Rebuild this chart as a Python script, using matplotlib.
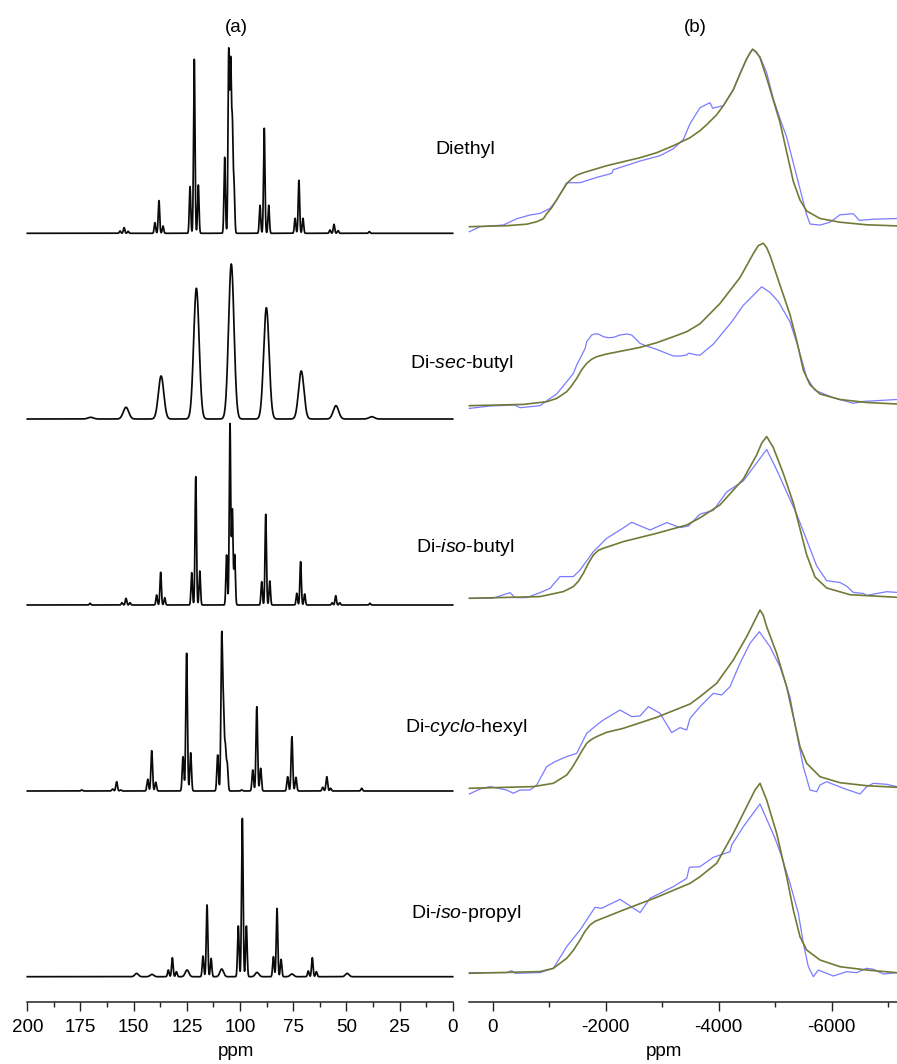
import numpy as np
import matplotlib
matplotlib.use('Agg')
import matplotlib.pyplot as plt
from matplotlib.ticker import MultipleLocator, FuncFormatter

plt.rcParams['font.family'] = ['Liberation Sans', 'DejaVu Sans']
plt.rcParams['mathtext.fontset'] = 'custom'
plt.rcParams['mathtext.rm'] = 'Liberation Sans'
plt.rcParams['mathtext.it'] = 'Liberation Sans:italic'
plt.rcParams['axes.unicode_minus'] = False

# ---- labels ----
names = ['Diethyl', r'Di-$\mathit{sec}$-butyl', r'Di-$\mathit{iso}$-butyl',
         r'Di-$\mathit{cyclo}$-hexyl', r'Di-$\mathit{iso}$-propyl']

# ---- (a) MAS spectra: peak positions (ppm) and heights ----
diethyl_ppm = [156.4, 154.5, 152.6, 140.0, 138.1, 136.2, 123.5, 121.5, 119.6, 107.2, 105.3, 104.4,
               103.6, 102.8, 90.6, 88.6, 86.5, 74.1, 72.3, 70.4, 57.7, 55.8, 53.9, 39.2]
diethyl_int = [2.3, 5.7, 2.0, 10.7, 32.7, 7.3, 46.7, 174, 48.3, 76, 180, 165,
               105, 46, 28, 105, 28, 15, 53, 15, 3.3, 9, 2.7, 1.7]

secbutyl_ppm = [170.2, 153.6, 137.1, 120.5, 104.1, 87.6, 71.2, 54.9, 38.1]
secbutyl_int = [1.7, 11.7, 43, 130.7, 155, 111.3, 48, 13.3, 2.3]

isobutyl_ppm = [170.5, 155.5, 153.6, 151.7, 139.2, 137.3, 135.4, 122.7, 120.8, 118.9, 106.3, 104.7,
                103.6, 102.5, 89.8, 87.9, 86.0, 73.3, 71.5, 69.6, 56.7, 55.0, 53.1, 38.9]
isobutyl_int = [1.7, 2.3, 6.7, 2.3, 10, 32.7, 7.3, 32.3, 128.3, 34, 50, 181,
                95, 50, 23.3, 90.7, 24, 11.7, 43.3, 11, 2.3, 9.3, 2.3, 1.7]

cyclohexyl_ppm = [174.4, 159.9, 158.0, 156.1, 143.4, 141.5, 139.6, 126.8, 125.1, 123.2, 110.5, 108.6, 107.8,
                  106.9, 106.0, 99.2, 94.0, 92.1, 90.3, 77.6, 75.6, 73.7, 61.1, 59.2, 57.4, 42.8]
cyclohexyl_int = [1, 2, 9.3, 1, 11.7, 40.3, 8.7, 34.3, 137.7, 38.3, 36, 150, 75,
                  42, 26, 1, 21, 84.3, 22.7, 14.3, 54.3, 13.7, 3.7, 14.3, 2.7, 2.7]

isopropyl_ppm = [133.7, 131.8, 129.9, 117.4, 115.5, 113.6, 100.8, 98.9, 97.0, 84.3, 82.6, 80.7,
                 67.9, 66.0, 64.1]
isopropyl_int = [6.7, 19, 5, 20.7, 71.7, 18.3, 50.7, 158.3, 50.7, 20, 68.3, 17.3,
                 5.7, 19, 5]
isopropyl_broad_ppm = [148.6, 141.4, 124.9, 108.6, 92.0, 75.6, 49.6]
isopropyl_broad_int = [3.3, 2.3, 6.7, 7.7, 4.3, 2.7, 3.3]

# line widths (ppm, FWHM)
mas_fwhm = [0.8, 3.0, 0.8, 0.9, 0.85]

# ---- (b) static spectra: fit (olive) and experiment (blue) ----
diethyl_fit_x = [413, -248, -602, -779, -897, -956, -1044, -1133, -1221, -1310, -1398, -1487, -1605, -1782,
                 -2018, -2313, -2608, -2903, -3198, -3493, -3669, -3788, -3965, -4083, -4259, -4378, -4496,
                 -4555, -4601, -4660, -4731, -4849, -4967, -5085, -5203, -5321, -5439, -5557, -5793, -6147,
                 -6619, -7157]
diethyl_fit_y = [0, 1, 2.5, 5, 8, 13, 19, 27, 35, 43, 48, 51.5, 54, 57,
                 61, 65, 69, 74, 81, 89, 96, 102, 112, 121, 137, 153, 168,
                 174, 177.5, 175, 169, 148.7, 126.5, 104.3, 74.7, 45.2, 26.7, 15.7, 8.2, 4.5,
                 1.9, 0.8]
diethyl_exp_x = [413, 224, -189, -425, -661, -838, -1015, -1133, -1310, -1546, -1841, -2106, -2136, -2608,
                 -2962, -3198, -3375, -3493, -3669, -3846, -3893, -4082, -4259, -4378, -4496, -4601, -4731,
                 -4849, -4967, -5085, -5203, -5321, -5439, -5557, -5616, -5793, -5970, -6147, -6383, -6489,
                 -6737, -7157]
diethyl_exp_y = [-5, 0, 1.7, 8, 11.7, 13.3, 18.3, 26.7, 44, 44, 49.3, 53.3, 57, 65.7,
                 71, 78, 87.3, 103, 119, 124, 118.5, 121, 137, 153, 168, 177.5, 170,
                 154, 128, 108, 89.5, 63.7, 37.8, 11.9, 2.7, 1.6, 4.5, 11.9, 13, 6.3,
                 7.5, 8.2]

secbutyl_fit_x = [413, -543, -956, -1133, -1310, -1398, -1487, -1575, -1664, -1752, -1841, -2018, -2313,
                  -2608, -2903, -3198, -3434, -3669, -4023, -4377, -4613, -4700, -4790, -4850, -4908, -5085,
                  -5262, -5380, -5498, -5616, -5793, -6147, -6619, -7157]
secbutyl_fit_y = [0, 1.3, 4, 7.3, 14, 20, 27.3, 36, 42.3, 46.5, 49, 51.7, 55,
                  58.3, 63, 69, 74, 81.9, 102.2, 128.1, 152.1, 160, 162.5, 158, 150.3, 120.7,
                  91.1, 65.3, 35.7, 20.9, 11.7, 6.2, 3.2, 1.7]
secbutyl_exp_x = [413, 47, -395, -484, -838, -1015, -1133, -1310, -1428, -1487, -1634, -1664, -1752, -1811,
                  -1870, -1959, -2047, -2136, -2254, -2372, -2460, -2608, -2726, -2903, -3080, -3198, -3316,
                  -3434, -3463, -3493, -3611, -3669, -3905, -4230, -4436, -4761, -4908, -5056, -5262, -5410,
                  -5557, -5705, -6029, -6383, -6560, -7157]
secbutyl_exp_y = [-2.7, -0.3, 0.7, -2, 0, 7.3, 11.7, 24, 32.3, 40.7, 57, 64, 70.7, 71.7,
                  71.7, 69, 68, 68.3, 70.7, 71.7, 70.7, 62.3, 59.7, 56.3, 52.3, 49.7, 49.7,
                  50.7, 52.3, 52.3, 50.7, 50.5, 61.6, 83.8, 100.4, 118.9, 113.3, 104.1, 83.8, 57.9,
                  28.3, 15.4, 8, 2.4, 4.3, 6.2]

isobutyl_fit_x = [413, -838, -1251, -1428, -1516, -1605, -1693, -1782, -1870, -1959, -2313, -2903, -3434,
                  -3669, -4023, -4436, -4672, -4760, -4849, -4967, -5144, -5321, -5439, -5557, -5705, -5911,
                  -6324, -7157]
isobutyl_fit_y = [0, 1.7, 6.7, 11.7, 17, 25, 35, 43.3, 48, 50, 56.7, 65, 73.3,
                  80.5, 93.4, 119.3, 143.3, 155, 161.8, 150.7, 124.8, 95.3, 69.4, 43.5, 21.3, 10.3,
                  3.6, 1]
isobutyl_exp_x = [413, 0, -307, -395, -602, -838, -1015, -1192, -1428, -1546, -1782, -2018, -2254, -2460,
                  -2785, -3080, -3316, -3463, -3669, -3905, -4141, -4436, -4849, -5026, -5203, -5380, -5557,
                  -5734, -5911, -6147, -6265, -6383, -6560, -6619, -6973, -7157]
isobutyl_exp_y = [0, 0, 5.7, 0.7, 0.7, 5.7, 10, 21.7, 21.7, 28.3, 46.7, 60, 68.3, 76,
                  68.3, 75.7, 70.7, 72.3, 84.2, 87.9, 106.3, 117.4, 148.8, 128.5, 106.3, 84.2, 58.3,
                  32.4, 17.7, 15.8, 12.1, 5.9, 4.8, 2.9, 6.6, 5.9]

cyclohexyl_fit_x = [413, -720, -1074, -1310, -1398, -1487, -1575, -1664, -1752, -1841, -2018, -2313, -2903,
                    -3493, -3669, -3964, -4259, -4495, -4643, -4731, -4790, -4849, -5026, -5203, -5321, -5439,
                    -5557, -5793, -6147, -6619, -7157]
cyclohexyl_fit_y = [0, 1.7, 5, 13.3, 20, 28.3, 37, 45, 49, 51.7, 56, 60, 71,
                    84.3, 91.6, 105, 128.3, 151.6, 168.3, 178.3, 173, 161.6, 135, 101.6, 71.6, 41.6,
                    25, 11.6, 5.6, 2.6, 1]
cyclohexyl_exp_x = [413, 224, 47, -248, -366, -484, -661, -779, -956, -1103, -1310, -1487, -1664, -1841,
                    -1959, -2254, -2460, -2608, -2755, -2962, -3168, -3316, -3434, -3493, -3669, -3905, -4053,
                    -4200, -4377, -4554, -4719, -4908, -5085, -5262, -5380, -5498, -5616, -5734, -5793, -5911,
                    -6206, -6501, -6619, -6737, -6973, -7157]
cyclohexyl_exp_y = [-5.7, -0.7, 1.7, -1.7, -5, -1.7, -1.7, 3.3, 21.7, 26.7, 31.7, 35, 55, 63.3,
                    68.3, 78.3, 71.7, 72.3, 81.7, 75, 55.7, 60.7, 58.3, 70, 81.6, 95, 93.3,
                    101.6, 125, 145, 156.6, 141.6, 121.6, 91.6, 55, 21.6, -1.7, -3.4, 3.3, 6.6,
                    0, -5.7, 1.6, 5, 4, 1.6]

isopropyl_fit_x = [413, -838, -1074, -1310, -1428, -1546, -1634, -1723, -1811, -1900, -2313, -2903, -3493,
                   -3669, -3964, -4259, -4495, -4643, -4731, -4849, -5026, -5203, -5321, -5439, -5557, -5793,
                   -6147, -6619, -7157]
isopropyl_fit_y = [0, 1.7, 5, 15, 23, 33.3, 42, 48.3, 52, 54, 63.3, 76, 90,
                   96.6, 110, 140, 166.6, 183.3, 190, 173.3, 140, 96.6, 63.3, 36.6, 23.3, 13.3,
                   6.6, 3.3, 0.6]
isopropyl_exp_x = [413, -248, -336, -395, -838, -1074, -1310, -1546, -1811, -1929, -2254, -2608, -2785,
                   -3198, -3434, -3481, -3669, -3905, -4200, -4230, -4436, -4731, -4908, -4997, -5115, -5262,
                   -5410, -5498, -5587, -5675, -5763, -6029, -6265, -6442, -6619, -6737, -6914, -7157]
isopropyl_exp_y = [0.7, 0.7, 2.7, 0, 0.7, 5, 26.7, 43.3, 66, 65, 74, 60.7, 75,
                   86.7, 95, 106, 106.6, 116, 121.6, 128.3, 146.6, 169.3, 146.6, 135, 116.6, 90,
                   60, 30, 6.6, -3.4, 3.3, -2.7, 1.6, 0.6, 5, 4, -0.7, 0.6]


def mas_trace(x, centres, heights, fwhm):
    # sum of gaussian lines, heights = apparent peak heights
    s = fwhm / 2.3548
    y = np.zeros_like(x)
    for c, h in zip(centres, heights):
        y += h * np.exp(-0.5 * ((x - c) / s) ** 2)
    return y


W, H = 897, 1064
fig = plt.figure(figsize=(W / 100, H / 100), dpi=100)

spine_y = 1002   # pixel row of the bottom axis line
axA = fig.add_axes([27.3 / W, (H - spine_y) / H, 425.4 / W, spine_y / H])
axB = fig.add_axes([469.3 / W, (H - spine_y) / H, 427.7 / W, spine_y / H])
axB.patch.set_alpha(0)
axA.patch.set_alpha(0)

# ---- panel (a) ----
left_base = [768.7, 583, 397, 211, 25.3]
x = np.linspace(200, 0, 20001)
mas_sets = [(diethyl_ppm, diethyl_int), (secbutyl_ppm, secbutyl_int), (isobutyl_ppm, isobutyl_int),
            (cyclohexyl_ppm, cyclohexyl_int), (isopropyl_ppm, isopropyl_int)]
for i, (pp, ii) in enumerate(mas_sets):
    y = mas_trace(x, pp, ii, mas_fwhm[i])
    if i == 4:
        y = y + mas_trace(x, isopropyl_broad_ppm, isopropyl_broad_int, 2.0)
    axA.plot(x, y + left_base[i], color='#0a0a0a', lw=1.25, clip_on=False)

axA.set_xlim(200, 0)
axA.set_ylim(0, spine_y)
axA.xaxis.set_major_locator(MultipleLocator(25))
axA.xaxis.set_minor_locator(MultipleLocator(12.5))

# ---- panel (b) ----
right_base = [775.3, 596.3, 403.7, 213.7, 28.7]
static_sets = [(diethyl_exp_x, diethyl_exp_y, diethyl_fit_x, diethyl_fit_y),
               (secbutyl_exp_x, secbutyl_exp_y, secbutyl_fit_x, secbutyl_fit_y),
               (isobutyl_exp_x, isobutyl_exp_y, isobutyl_fit_x, isobutyl_fit_y),
               (cyclohexyl_exp_x, cyclohexyl_exp_y, cyclohexyl_fit_x, cyclohexyl_fit_y),
               (isopropyl_exp_x, isopropyl_exp_y, isopropyl_fit_x, isopropyl_fit_y)]
for i, (ex, ey, fx, fy) in enumerate(static_sets):
    axB.plot(ex, np.array(ey) + right_base[i], color='#7b7bff', lw=0.9, clip_on=False,
             solid_joinstyle='round')
    axB.plot(fx, np.array(fy) + right_base[i], color='#717a36', lw=1.2, clip_on=False,
             solid_joinstyle='round')

axB.set_xlim(414, -7156)
axB.set_ylim(0, spine_y)
axB.xaxis.set_major_locator(MultipleLocator(2000))
axB.xaxis.set_minor_locator(MultipleLocator(1000))
axB.xaxis.set_major_formatter(FuncFormatter(lambda v, p: '%d' % v))

for ax in (axA, axB):
    for s in ('left', 'right', 'top'):
        ax.spines[s].set_visible(False)
    ax.spines['bottom'].set_linewidth(1.1)
    ax.spines['bottom'].set_color('#222222')
    ax.set_yticks([])
    ax.tick_params(axis='x', which='major', direction='out', length=6.5, width=1.0,
                   labelsize=13.5, pad=5.5, color='#222222')
    ax.tick_params(axis='x', which='minor', direction='out', length=3.6, width=1.0, color='#222222')

# ---- texts ----
fig.text(236 / W, 1 - 27 / H, '(a)', ha='center', va='center', fontsize=13.5)
fig.text(695.5 / W, 1 - 27 / H, '(b)', ha='center', va='center', fontsize=13.5)
fig.text(236 / W, 1 - 1052 / H, 'ppm', ha='center', va='center', fontsize=13.5)
fig.text(664 / W, 1 - 1052 / H, 'ppm', ha='center', va='center', fontsize=13.5)

label_xy = [(465, 150), (462, 363), (465, 547), (466, 728), (466, 913)]
for n, (lx, ly) in zip(names, label_xy):
    fig.text(lx / W, 1 - ly / H, n, ha='center', va='center', fontsize=14)

fig.savefig('out.png', dpi=100)
